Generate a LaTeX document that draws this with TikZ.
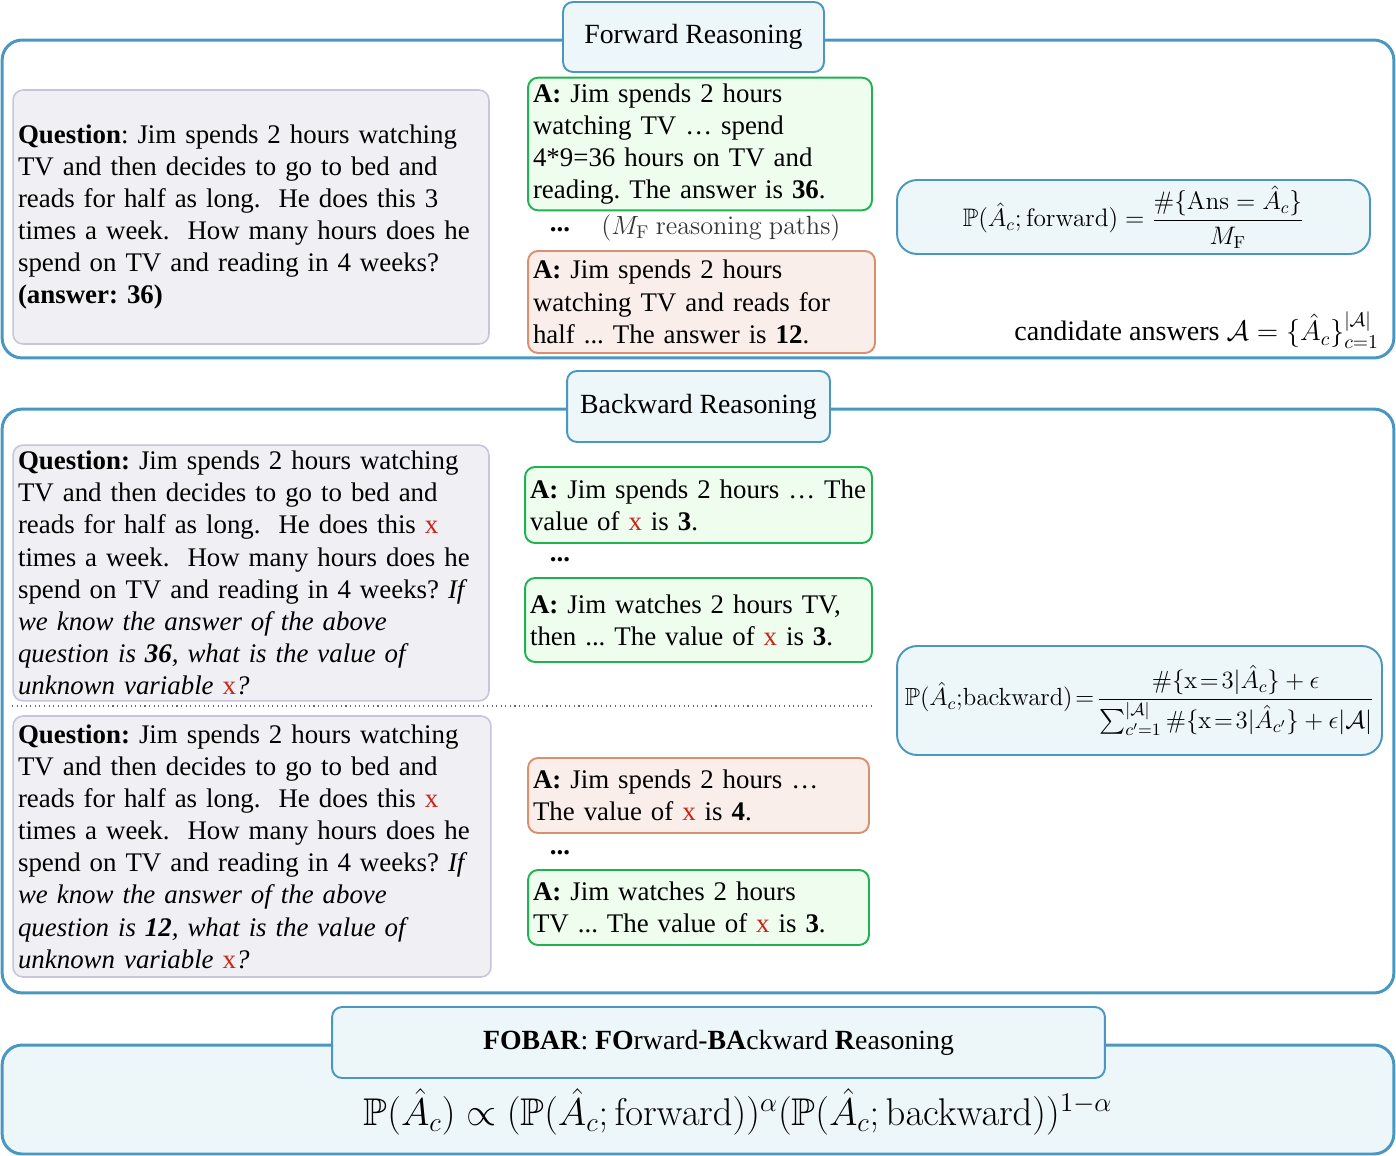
\RequirePackage{fix-cm}
\documentclass[tikz,border=0pt]{standalone}
\usepackage{amsmath}
\usepackage{amssymb}
\usepackage[no-math]{fontspec}
\setmainfont{Liberation Serif}
\usetikzlibrary{positioning}
\definecolor{frameblue}{RGB}{74,152,193}
\definecolor{titlefill}{RGB}{237,246,248}
\definecolor{qfill}{RGB}{240,239,244}
\definecolor{qdraw}{RGB}{200,196,221}
\definecolor{gooddraw}{RGB}{30,178,80}
\definecolor{goodfill}{RGB}{239,253,239}
\definecolor{baddraw}{RGB}{218,144,111}
\definecolor{badfill}{RGB}{250,238,234}
\definecolor{xred}{RGB}{204,34,20}
\newcommand{\xv}{\textcolor{xred}{\textup{x}}}
\tikzset{node distance=0.3cm,
  txt/.style={font=\fontsize{15.3}{18.3}\selectfont\frenchspacing},
  frame/.style={draw=frameblue, line width=1.7pt, rounded corners=0.4cm, minimum width=27.84cm},
  titlebox/.style={font=\fontsize{15.8}{18.3}\selectfont, draw=frameblue, fill=titlefill, line width=1.1pt, rounded corners=0.2cm},
  qbox/.style={txt, draw=qdraw, fill=qfill, line width=0.9pt, rounded corners=0.2cm, align=left, inner xsep=0.1cm},
  goodbox/.style={txt, draw=gooddraw, fill=goodfill, line width=1.1pt, rounded corners=0.2cm, align=left, inner xsep=0.1cm},
  badbox/.style={txt, draw=baddraw, fill=badfill, line width=1.1pt, rounded corners=0.2cm, align=left, inner xsep=0.1cm},
  probbox/.style={draw=frameblue, fill=titlefill, line width=1.1pt, rounded corners=0.4cm, font=\fontsize{14.4}{17}\selectfont},
  dots/.style={font=\bfseries\fontsize{15.3}{18.3}\selectfont}}

\begin{document}
\begin{tikzpicture}[x=0.02cm, y=-0.02cm]
  \useasboundingbox (0,0) rectangle (1396,1156);

  % frames
  \node[frame, minimum height=6.36cm] (fwd) at (698,199) {};
  \node[frame, minimum height=11.68cm] (bwd) at (698,701) {};
  \node[frame, fill=titlefill, minimum height=2.18cm] (fobar) at (698,1099.5) {};

  \node[titlebox, minimum width=5.22cm, minimum height=1.4cm] (fwdtitle) at (693.5,37) {Forward Reasoning};
  \node[titlebox, minimum width=5.26cm, minimum height=1.42cm] (bwdtitle) at (698.5,406.5) {Backward Reasoning};
  \node[titlebox, minimum width=15.46cm, minimum height=1.42cm] (fobartitle) at (718.5,1042.5)
    {\textbf{FOBAR}: \textbf{FO}rward-\textbf{BA}ckward \textbf{R}easoning};

  % forward reasoning
  \node[qbox, text width=9.32cm, minimum height=5.08cm] (qF) at (251,217)
    {\textbf{Question}: Jim spends 2 hours watching\\
     TV and then decides to go to bed and\\
     reads for half as long.\ \ He does this 3\\
     times a week.\ \ How many hours does he\\
     spend on TV and reading in 4 weeks?\\
     \textbf{(answer: 36)}};
  \node[goodbox, text width=6.68cm, minimum height=2.52cm] (aF1) at (700,144)
    {\textbf{A:} Jim spends 2 hours\\
     watching TV … spend\\
     4*9=36 hours on TV and\\
     reading. The answer is \textbf{36}.};
  \node[dots] (dF) at (560,230) {...};
  \node[font=\fontsize{15}{18}\selectfont, text=black!80] (pathsF) at (721,228)
    {$(M_{\mathrm{F}}\ \mathrm{reasoning\ paths})$};
  \node[badbox, text width=6.74cm, minimum height=2.04cm] (aF2) at (701.5,302)
    {\textbf{A:} Jim spends 2 hours\\
     watching TV and reads for\\
     half ... The answer is \textbf{12}.};
  \node[probbox, minimum width=9.46cm, minimum height=1.4cm] (pF) at (1133.5,217)
    {$\mathbb{P}(\hat{A}_c;\mathrm{forward}) = \dfrac{\#\{\mathrm{Ans} = \hat{A}_c\}}{M_{\mathrm{F}}}$};
  \node[font=\fontsize{16}{19}\selectfont, anchor=east] (cand) at (1385,330)
    {candidate answers $\mathcal{A}=\{\hat{A}_c\}_{c=1}^{|\mathcal{A}|}$};

  % backward reasoning
  \node[qbox, text width=9.32cm, minimum height=5.04cm] (qB1) at (251,573)
    {\textbf{Question:} Jim spends 2 hours watching\\
     TV and then decides to go to bed and\\
     reads for half as long.\ \ He does this \xv\\
     times a week.\ \ How many hours does he\\
     spend on TV and reading in 4 weeks? \textit{If}\\
     \textit{we know the answer of the above}\\
     \textit{question is \textbf{36}, what is the value of}\\
     \textit{unknown variable \xv?}};
  \node[goodbox, text width=6.74cm, minimum height=1.52cm] (aB1) at (698.5,505)
    {\textbf{A:} Jim spends 2 hours … The\\
     value of \xv{} is \textbf{3}.};
  \node[dots] (dB1) at (560,560) {...};
  \node[goodbox, text width=6.74cm, minimum height=1.68cm] (aB2) at (698.5,620)
    {\textbf{A:} Jim watches 2 hours TV,\\
     then ... The value of \xv{} is \textbf{3}.};

  \coordinate (sepL) at (12,706);
  \coordinate (sepR) at (873,706);
  \draw[dotted, black!60, line width=0.6pt] (sepL) -- (sepR);

  \node[qbox, text width=9.36cm, minimum height=5.22cm] (qB2) at (252,846.5)
    {\textbf{Question:} Jim spends 2 hours watching\\
     TV and then decides to go to bed and\\
     reads for half as long.\ \ He does this \xv\\
     times a week.\ \ How many hours does he\\
     spend on TV and reading in 4 weeks? \textit{If}\\
     \textit{we know the answer of the above}\\
     \textit{question is \textbf{12}, what is the value of}\\
     \textit{unknown variable \xv?}};
  \node[badbox, text width=6.62cm, minimum height=1.5cm] (aB3) at (698.5,795.5)
    {\textbf{A:} Jim spends 2 hours …\\
     The value of \xv{} is \textbf{4}.};
  \node[dots] (dB2) at (560,853) {...};
  \node[goodbox, text width=6.62cm, minimum height=1.5cm] (aB4) at (698.5,907.5)
    {\textbf{A:} Jim watches 2 hours\\
     TV ... The value of \xv{} is \textbf{3}.};
  \node[probbox, font=\fontsize{14.1}{17}\selectfont, minimum width=9.7cm, minimum height=2.18cm] (pB) at (1139.5,700.5)
    {$\mathbb{P}(\hat{A}_c{;}\mathrm{backward})\!=\!\dfrac{\#\{\mathrm{x}\!=\!3|\hat{A}_c\}+\epsilon}{\sum_{c'=1}^{|\mathcal{A}|}\#\{\mathrm{x}\!=\!3|\hat{A}_{c'}\}+\epsilon|\mathcal{A}|}$};

  % FOBAR
  \node[font=\fontsize{22}{26}\selectfont] (pAll) at (738,1112)
    {$\mathbb{P}(\hat{A}_c) \propto (\mathbb{P}(\hat{A}_c;\mathrm{forward}))^{\alpha}(\mathbb{P}(\hat{A}_c;\mathrm{backward}))^{1-\alpha}$};
\end{tikzpicture}
\end{document}
